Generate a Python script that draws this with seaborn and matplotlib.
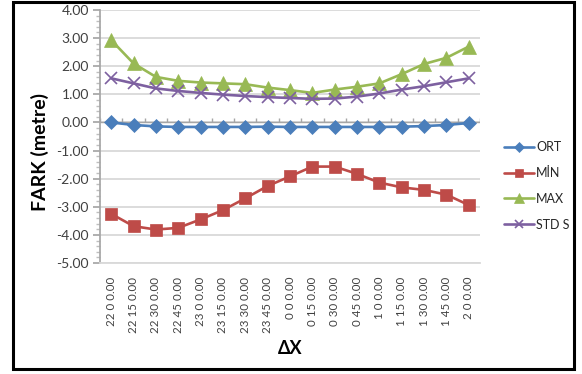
import numpy as np
import pandas as pd
import matplotlib
matplotlib.use("Agg")
import matplotlib.pyplot as plt
from matplotlib.patches import Rectangle
from matplotlib.ticker import MultipleLocator
import seaborn as sns

# Time steps (category labels along the horizontal axis)
times = ["22 0 0.00", "22 15 0.00", "22 30 0.00", "22 45 0.00",
         "23 0 0.00", "23 15 0.00", "23 30 0.00", "23 45 0.00",
         "0 0 0.00", "0 15 0.00", "0 30 0.00", "0 45 0.00",
         "1 0 0.00", "1 15 0.00", "1 30 0.00", "1 45 0.00", "2 0 0.00"]

ort = [0.00, -0.09, -0.14, -0.16, -0.16, -0.16, -0.16, -0.15, -0.16,
       -0.16, -0.16, -0.16, -0.16, -0.15, -0.13, -0.09, -0.02]
min_vals = [-3.25, -3.69, -3.81, -3.75, -3.45, -3.12, -2.70, -2.26, -1.92,
            -1.57, -1.57, -1.83, -2.14, -2.31, -2.40, -2.57, -2.94]
max_vals = [2.93, 2.10, 1.62, 1.48, 1.42, 1.39, 1.36, 1.24, 1.15,
            1.05, 1.17, 1.27, 1.39, 1.72, 2.08, 2.30, 2.70]
std_vals = [1.57, 1.39, 1.21, 1.12, 1.05, 0.99, 0.94, 0.90, 0.87,
            0.84, 0.85, 0.92, 1.03, 1.17, 1.29, 1.43, 1.57]

series_names = ["ORT", "MİN", "MAX", "STD S"]
series_values = [ort, min_vals, max_vals, std_vals]
colors = ["#4A7EBB", "#BE4B48", "#98B954", "#7D60A0"]
markers = ["D", "s", "^", "x"]
msizes = [7, 8.5, 9.5, 9]

sns.set_theme(style="white")
plt.rcParams["font.family"] = ["Lato", "DejaVu Sans"]

fig = plt.figure(figsize=(5.82, 3.74), dpi=100)
ax = fig.add_axes([100 / 582, 1 - 263 / 374, 380 / 582, 253 / 374])

idx = np.arange(len(times))
df = pd.DataFrame({"idx": np.tile(idx, len(series_names)),
                   "value": np.concatenate(series_values),
                   "series": np.repeat(series_names, len(times))})

for name, col, mk, ms in zip(series_names, colors, markers, msizes):
    sub = df[df["series"] == name]
    sns.lineplot(data=sub, x="idx", y="value", ax=ax, color=col, marker=mk,
                 markersize=ms, markeredgecolor=col, markeredgewidth=1.2 if mk == "x" else 0.5,
                 linewidth=1.9, label=name, zorder=3)

ax.set_xlim(-0.5, len(times) - 0.5)
ax.set_ylim(-5, 4)
ax.yaxis.set_major_locator(MultipleLocator(1))
ax.yaxis.set_minor_locator(MultipleLocator(0.2))
ax.yaxis.set_major_formatter(matplotlib.ticker.FormatStrFormatter("%.2f"))
ax.grid(axis="y", which="major", color="#D9D9D9", linewidth=1.3, zorder=0)
ax.grid(axis="x", visible=False)

for s in ["top", "right"]:
    ax.spines[s].set_visible(False)
ax.spines["left"].set_color("#A6A6A6")
ax.spines["bottom"].set_color("#D9D9D9")
ax.spines["bottom"].set_linewidth(1.3)

# category axis crossing at zero, with tick marks between categories
ax.axhline(0, color="#A6A6A6", linewidth=1.0, zorder=2)
bounds = np.arange(len(times) + 1) - 0.5
ax.vlines(bounds, 0, 0.16, color="#A6A6A6", linewidth=1.0, zorder=2)

ax.tick_params(axis="y", which="major", left=True, length=5, color="#A6A6A6",
               labelsize=10, labelcolor="#404040", pad=3)
ax.tick_params(axis="y", which="minor", left=True, length=3, color="#BFBFBF")
ax.set_xticks(idx)
ax.set_xticklabels(times, rotation=90)
ax.tick_params(axis="x", bottom=False, labelsize=8.3, labelcolor="#404040", pad=4)

ax.set_ylabel("FARK (metre)", fontsize=14, fontweight="bold", color="#000000")
ax.yaxis.set_label_coords(-0.135, 0.44)
ax.set_xlabel("ΔX", fontsize=13, fontweight="bold", color="#000000", labelpad=5)

handles, labels = ax.get_legend_handles_labels()
leg = fig.legend(handles, labels, loc="upper left", bbox_to_anchor=(493 / 582, 1 - 130 / 374),
                 frameon=False, fontsize=9, handlelength=2.4, labelspacing=1.1,
                 handletextpad=0.15, markerscale=0.7)
for t in leg.get_texts():
    t.set_color("#262626")
if ax.get_legend() is not None:
    ax.get_legend().remove()

fig.patches.append(Rectangle((13 / 582, 1 - 369 / 374), 561 / 582, 367 / 374,
                             transform=fig.transFigure, fill=False,
                             edgecolor="black", linewidth=2.2))

fig.savefig("out.png", dpi=100)
